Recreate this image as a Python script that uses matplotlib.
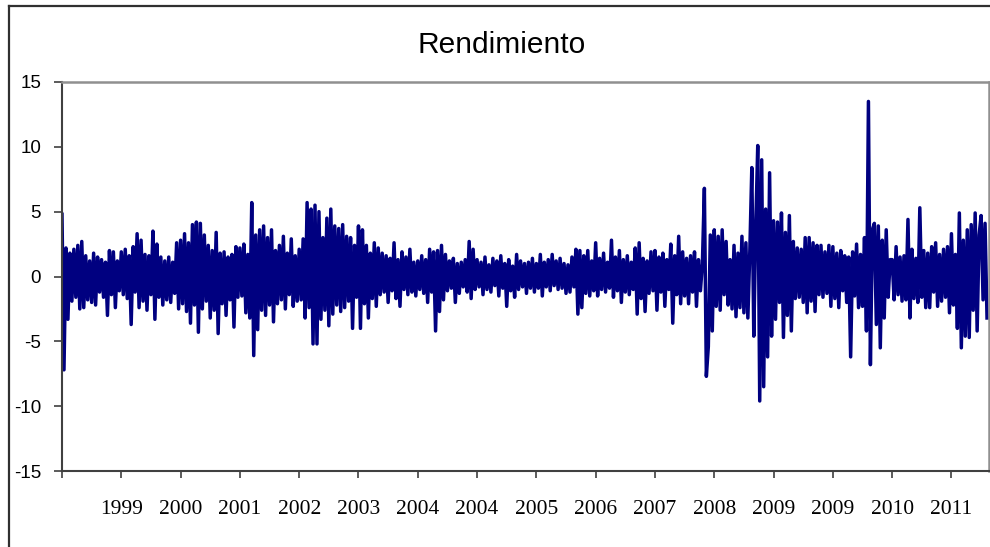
import matplotlib as mpl
mpl.use('Agg')
import matplotlib.pyplot as plt
import numpy as np

# daily returns, one list per tick interval (~30 obs each)
r1998 = [4.8, -7.2, 2.2, -3.3, 1.8, -1.9, 2.1, -1.6, 2.4, -2.5, 2.7, -2.4, 1.6, -1.8, 1.2,
         -2.0, 1.8, -2.2, 1.5, -1.2, 1.3, -1.6, 1.1, -3.0, 2.0, -1.4, 1.9, -2.4, 1.2, -1.1]
r1999 = [1.9, -1.4, 2.1, -1.7, 1.6, -3.7, 2.3, -1.2, 3.3, -2.4, 2.8, -1.9, 1.7, -2.6, 1.6,
         -1.4, 3.5, -3.3, 2.5, -1.6, 1.5, -2.2, 1.2, -1.8, 1.5, -2.0, 1.1, -1.3, 2.6, -2.5]
r2000 = [2.8, -2.1, 3.3, -2.7, 2.6, -3.6, 4.0, -2.2, 4.2, -4.3, 4.1, -2.5, 3.2, -1.9, 2.4,
         -3.2, 2.0, -2.6, 3.4, -4.4, 1.8, -2.1, 1.9, -3.0, 1.5, -1.8, 1.7, -3.9, 2.3, -1.6]
r2001 = [2.2, -1.5, 2.5, -2.8, 1.7, -3.2, 5.7, -6.1, 3.2, -4.1, 3.6, -2.6, 3.9, -3.0, 3.0,
         -2.2, 3.6, -3.5, 2.0, -2.1, 2.4, -1.8, 3.1, -2.5, 1.8, -1.4, 2.9, -2.3, 1.6, -1.9]
r2002 = [2.1, -1.8, 2.9, -3.2, 5.7, -2.4, 5.2, -5.2, 5.5, -5.2, 5.0, -3.3, 3.0, -2.6, 4.5,
         -3.8, 5.2, -2.9, 3.9, -2.2, 3.7, -2.7, 4.0, -2.4, 3.1, -1.9, 3.0, -4.0, 2.4, -1.6]
r2003 = [3.9, -4.0, 3.6, -2.1, 2.4, -3.2, 1.8, -1.7, 2.6, -2.3, 2.2, -1.4, 1.8, -1.2, 1.6,
         -2.0, 1.4, -1.1, 2.6, -1.7, 1.3, -2.3, 1.9, -1.0, 1.5, -1.4, 2.1, -1.2, 1.1, -1.5]
r2004a = [1.2, -1.0, 1.6, -1.3, 1.3, -2.0, 2.1, -1.2, 1.9, -4.2, 2.0, -2.7, 2.4, -1.8, 1.7,
          -1.1, 1.2, -0.9, 1.4, -2.0, 1.0, -1.3, 1.1, -0.8, 1.3, -1.2, 2.7, -1.7, 2.1, -1.0]
r2004b = [1.3, -0.8, 1.1, -1.4, 1.5, -1.0, 0.9, -1.2, 1.4, -0.7, 1.2, -1.5, 1.6, -0.9, 1.0,
          -2.3, 1.3, -1.1, 0.8, -1.6, 1.7, -1.0, 1.2, -0.8, 1.0, -1.3, 1.1, -0.9, 1.4, -1.2]
r2005 = [1.0, -0.9, 1.7, -1.5, 1.1, -0.8, 1.3, -1.1, 1.7, -0.7, 1.2, -1.0, 1.4, -0.9, 1.0,
         -1.3, 0.9, -1.2, 1.5, -0.8, 2.1, -2.9, 2.0, -2.4, 1.6, -1.3, 2.0, -1.5, 1.2, -1.1]
r2006 = [2.6, -1.5, 1.4, -1.0, 1.8, -1.2, 1.1, -0.9, 2.8, -1.6, 1.5, -1.1, 2.0, -2.0, 1.3,
         -1.2, 1.6, -1.4, 1.1, -1.0, 2.2, -2.9, 2.6, -1.7, 1.4, -2.7, 1.2, -1.3, 1.9, -1.1]
r2007 = [2.0, -2.6, 1.5, -1.2, 1.8, -2.3, 1.3, -1.0, 2.5, -3.6, 1.6, -1.4, 3.1, -2.1, 1.9,
         -1.5, 1.4, -2.1, 1.6, -1.2, 1.9, -2.3, 1.3, -1.1, 1.0, 6.8, -7.7, -5.4, 3.2, -4.2]
r2008 = [3.6, -2.3, 3.1, -2.6, 3.6, -1.4, 2.7, -2.2, 1.3, -2.5, 2.4, -3.1, 1.8, -2.4, 3.1,
         -2.8, 2.6, -3.2, 2.0, 8.4, -4.6, 3.9, 10.1, -9.6, 9.0, -8.5, 5.2, -6.2, 8.0, -4.6]
r2009a = [4.3, -3.3, 4.2, -2.0, 4.9, -4.7, 3.4, -3.0, 4.7, -4.2, 2.7, -1.7, 2.2, -1.6, 2.1,
          -2.0, 3.0, -2.8, 3.0, -1.9, 2.6, -2.7, 2.4, -1.4, 2.4, -1.6, 1.9, -1.3, 2.4, -2.3]
r2009b = [2.3, -1.7, 1.8, -2.4, 2.0, -1.1, 1.6, -2.0, 1.5, -6.2, 1.9, -1.5, 2.5, -2.4, 1.7,
          -2.3, 3.0, -4.2, 13.5, -6.8, 3.6, 4.1, -3.7, 3.9, -5.5, 2.8, -3.2, 3.6, -1.6, 1.3]
r2010 = [1.3, -1.8, 2.3, -1.4, 1.5, -1.9, 1.6, -1.8, 4.4, -3.2, 2.1, -1.7, 1.4, -2.0, 5.3,
         -1.6, 2.0, -2.4, 1.8, -2.4, 2.3, -1.2, 2.6, -2.3, 1.7, -1.9, 2.1, -1.6, 2.3, -2.8]
r2011 = [3.3, -2.2, 1.7, -4.0, 4.9, -5.5, 2.8, -4.6, 3.6, -4.7, 4.0, -2.6, 4.9, -4.2, 3.2,
         4.7, -1.8, 4.1, -3.2]

year_labels = ['1999', '2000', '2001', '2002', '2003', '2004', '2004', '2005',
               '2006', '2007', '2008', '2009', '2009', '2010', '2011']
yticks = [-15, -10, -5, 0, 5, 10, 15]

rend = np.array(r1998 + r1999 + r2000 + r2001 + r2002 + r2003 + r2004a + r2004b +
                r2005 + r2006 + r2007 + r2008 + r2009a + r2009b + r2010 + r2011)
per_tick = len(r1998)

fig = plt.figure(figsize=(9.9, 5.47), dpi=100)
ax = fig.add_axes([62/990., 1-471/547., (989-62)/990., (471-82)/547.])

ax.plot(np.arange(len(rend)), rend, color='#000080', lw=2.5)

ax.set_xlim(0, len(rend))
ax.set_ylim(-15, 15)
ax.set_yticks(yticks)
ax.set_yticklabels([str(v) for v in yticks], family='Liberation Sans', fontsize=13.5)
ax.set_xticks([per_tick*k for k in range(len(year_labels)+1)])
ax.set_xticklabels([''] + year_labels, family='Liberation Serif', fontsize=15.5)
ax.tick_params(axis='y', direction='out', length=6, width=1.2, color='#404040', pad=9)
ax.tick_params(axis='x', direction='out', length=5, width=1.2, color='#404040', pad=16)

for s in ['left', 'bottom']:
    ax.spines[s].set_color('#404040')
    ax.spines[s].set_linewidth(1.5)
for s in ['top', 'right']:
    ax.spines[s].set_color('#909090')
    ax.spines[s].set_linewidth(1.8)

fig.text(502/990., 1-53/547., 'Rendimiento', ha='center', va='baseline',
         family='Liberation Sans', fontsize=21.5)

# outer chart frame (only left and top edges are visible)
fig.add_artist(plt.Line2D([8.5/990, 8.5/990], [0, 1-5.5/547], transform=fig.transFigure,
                          color='#303030', lw=1.6))
fig.add_artist(plt.Line2D([8.5/990, 1], [1-5.5/547, 1-5.5/547], transform=fig.transFigure,
                          color='#303030', lw=1.6))

fig.savefig('out.png', dpi=100)
